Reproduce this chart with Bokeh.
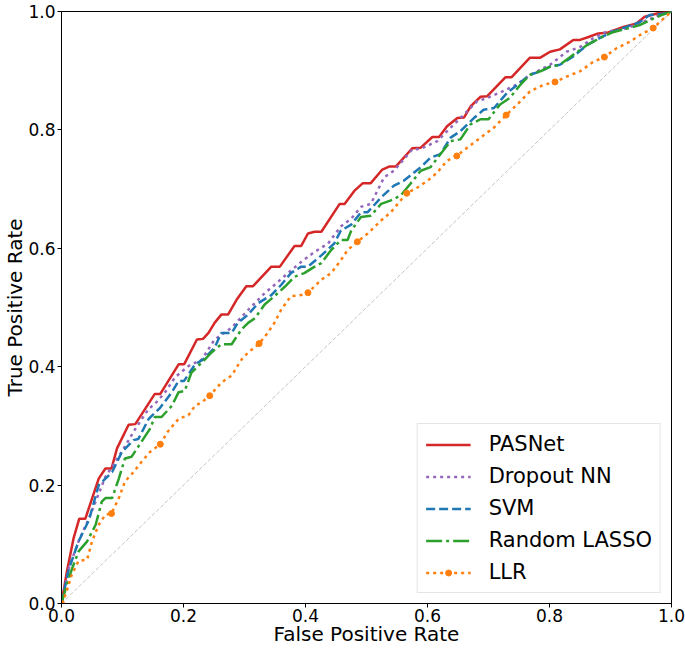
from bokeh.plotting import figure
from bokeh.models import Range1d, Legend, LegendItem, FixedTicker, NumeralTickFormatter
from bokeh.embed import file_html
from bokeh.resources import INLINE

# ---------------- data ----------------
pasnet_fpr = [0, 0.009, 0.020, 0.029, 0.039, 0.061, 0.072, 0.082, 0.091, 0.110, 0.121, 0.153, 0.162,
              0.192, 0.201, 0.222, 0.232, 0.241, 0.251, 0.262, 0.273, 0.287, 0.303, 0.314, 0.344, 0.358,
              0.382, 0.393, 0.404, 0.415, 0.426, 0.456, 0.464, 0.480, 0.494, 0.507, 0.526, 0.537, 0.548,
              0.575, 0.589, 0.608, 0.619, 0.632, 0.649, 0.660, 0.671, 0.687, 0.698, 0.728, 0.738, 0.768,
              0.785, 0.801, 0.817, 0.839, 0.850, 0.864, 0.880, 0.894, 0.921, 0.943, 0.956, 0.981, 1.0]
pasnet_tpr = [0, 0.055, 0.111, 0.143, 0.143, 0.211, 0.228, 0.228, 0.262, 0.302, 0.303, 0.354, 0.354,
              0.404, 0.404, 0.446, 0.447, 0.457, 0.474, 0.488, 0.488, 0.513, 0.536, 0.536, 0.569, 0.569,
              0.604, 0.604, 0.625, 0.628, 0.628, 0.675, 0.675, 0.697, 0.710, 0.710, 0.733, 0.738, 0.738,
              0.769, 0.770, 0.788, 0.788, 0.806, 0.820, 0.821, 0.840, 0.856, 0.857, 0.889, 0.889, 0.922,
              0.922, 0.932, 0.936, 0.952, 0.952, 0.957, 0.963, 0.964, 0.974, 0.980, 0.991, 0.998, 1.0]

dropout_fpr = [0, 0.012, 0.028, 0.045, 0.072, 0.085, 0.105, 0.121, 0.143, 0.153, 0.170, 0.186, 0.208,
               0.230, 0.251, 0.279, 0.306, 0.333, 0.349, 0.371, 0.393, 0.415, 0.437, 0.458, 0.475, 0.491,
               0.507, 0.529, 0.545, 0.575, 0.589, 0.616, 0.638, 0.654, 0.681, 0.698, 0.725, 0.747, 0.768,
               0.801, 0.828, 0.850, 0.872, 0.894, 0.921, 0.943, 0.959, 0.981, 1.0]
dropout_tpr = [0, 0.060, 0.105, 0.144, 0.214, 0.234, 0.267, 0.295, 0.329, 0.337, 0.357, 0.382, 0.401,
               0.412, 0.446, 0.466, 0.496, 0.524, 0.538, 0.558, 0.577, 0.594, 0.608, 0.637, 0.650, 0.670,
               0.675, 0.720, 0.731, 0.767, 0.768, 0.781, 0.804, 0.820, 0.848, 0.854, 0.866, 0.877, 0.893,
               0.910, 0.932, 0.940, 0.955, 0.966, 0.970, 0.978, 0.985, 0.994, 1.0]

svm_fpr = [0, 0.012, 0.028, 0.045, 0.061, 0.072, 0.083, 0.099, 0.118, 0.126, 0.143, 0.162, 0.181, 0.192,
           0.201, 0.219, 0.232, 0.251, 0.262, 0.279, 0.289, 0.306, 0.322, 0.344, 0.360, 0.376, 0.393, 0.404,
           0.426, 0.447, 0.458, 0.475, 0.491, 0.502, 0.524, 0.545, 0.561, 0.589, 0.605, 0.621, 0.638, 0.654,
           0.676, 0.692, 0.709, 0.730, 0.747, 0.768, 0.785, 0.801, 0.817, 0.839, 0.861, 0.882, 0.904, 0.926,
           0.948, 0.964, 0.986, 1.0]
svm_tpr = [0, 0.058, 0.105, 0.141, 0.200, 0.211, 0.222, 0.256, 0.276, 0.278, 0.312, 0.331, 0.357, 0.376,
           0.376, 0.404, 0.412, 0.432, 0.457, 0.457, 0.474, 0.488, 0.507, 0.521, 0.538, 0.558, 0.569, 0.569,
           0.588, 0.608, 0.630, 0.640, 0.661, 0.661, 0.686, 0.706, 0.714, 0.737, 0.753, 0.759, 0.787, 0.798,
           0.820, 0.834, 0.837, 0.862, 0.876, 0.893, 0.899, 0.907, 0.910, 0.924, 0.943, 0.955, 0.966, 0.974,
           0.982, 0.994, 0.996, 1.0]

lasso_fpr = [0, 0.009, 0.017, 0.028, 0.042, 0.056, 0.066, 0.072, 0.083, 0.094, 0.104, 0.115, 0.131, 0.145,
             0.153, 0.164, 0.181, 0.192, 0.202, 0.213, 0.230, 0.246, 0.262, 0.279, 0.295, 0.306, 0.317, 0.333,
             0.349, 0.366, 0.382, 0.398, 0.415, 0.426, 0.442, 0.458, 0.469, 0.475, 0.491, 0.507, 0.524, 0.540,
             0.556, 0.572, 0.589, 0.605, 0.621, 0.638, 0.654, 0.670, 0.687, 0.700, 0.719, 0.735, 0.752, 0.768,
             0.785, 0.801, 0.817, 0.839, 0.861, 0.882, 0.904, 0.926, 0.948, 0.964, 0.986, 1.0]
lasso_tpr = [0, 0.033, 0.058, 0.088, 0.105, 0.133, 0.172, 0.178, 0.178, 0.211, 0.245, 0.248, 0.273, 0.295,
             0.315, 0.315, 0.334, 0.357, 0.359, 0.390, 0.407, 0.424, 0.438, 0.438, 0.463, 0.474, 0.482, 0.505,
             0.519, 0.535, 0.552, 0.558, 0.569, 0.575, 0.597, 0.614, 0.614, 0.630, 0.653, 0.655, 0.675, 0.681,
             0.689, 0.709, 0.731, 0.737, 0.759, 0.781, 0.784, 0.809, 0.818, 0.818, 0.843, 0.854, 0.876, 0.893,
             0.899, 0.907, 0.910, 0.927, 0.943, 0.955, 0.965, 0.971, 0.977, 0.985, 0.995, 1.0]

llr_fpr = [0, 0.007, 0.017, 0.028, 0.042, 0.050, 0.061, 0.072, 0.082, 0.094, 0.104, 0.118, 0.131, 0.145,
           0.162, 0.174, 0.192, 0.208, 0.219, 0.230, 0.243, 0.262, 0.279, 0.295, 0.306, 0.324, 0.338, 0.349,
           0.360, 0.376, 0.393, 0.404, 0.426, 0.442, 0.458, 0.469, 0.485, 0.502, 0.524, 0.540, 0.556, 0.566,
           0.584, 0.600, 0.616, 0.632, 0.648, 0.665, 0.687, 0.709, 0.729, 0.747, 0.768, 0.790, 0.809, 0.828,
           0.850, 0.872, 0.890, 0.910, 0.932, 0.948, 0.970, 0.986, 1.0]
llr_tpr = [0, 0.016, 0.049, 0.072, 0.074, 0.105, 0.133, 0.150, 0.152, 0.178, 0.206, 0.222, 0.239, 0.256,
           0.269, 0.290, 0.312, 0.318, 0.334, 0.340, 0.351, 0.373, 0.385, 0.412, 0.424, 0.439, 0.457, 0.474,
           0.496, 0.519, 0.521, 0.525, 0.547, 0.558, 0.580, 0.597, 0.611, 0.625, 0.647, 0.661, 0.681, 0.693,
           0.703, 0.714, 0.728, 0.748, 0.756, 0.770, 0.787, 0.804, 0.825, 0.843, 0.865, 0.876, 0.881, 0.890,
           0.899, 0.915, 0.923, 0.938, 0.949, 0.960, 0.972, 0.987, 1.0]

llr_marker_fpr = [0, 0.082, 0.162, 0.243, 0.324, 0.404, 0.485, 0.566, 0.648, 0.729, 0.809, 0.890, 0.970]
llr_marker_tpr = [0, 0.152, 0.269, 0.351, 0.439, 0.525, 0.611, 0.693, 0.756, 0.825, 0.881, 0.923, 0.972]

chance_fpr = [0, 1]
chance_tpr = [0, 1]

tick_values = [0.0, 0.2, 0.4, 0.6, 0.8, 1.0]
series_labels = ["PASNet", "Dropout NN", "SVM", "Random LASSO", "LLR"]
x_label = "False Positive Rate"
y_label = "True Positive Rate"

FONT = "DejaVu Sans"

# ---------------- figure ----------------
p = figure(width=685, height=648, output_backend="svg", toolbar_location=None,
           x_range=Range1d(0, 1), y_range=Range1d(0, 1),
           x_axis_label=x_label, y_axis_label=y_label,
           min_border_left=10, min_border_right=14, min_border_top=11, min_border_bottom=10)
p.background_fill_color = "white"
p.border_fill_color = "white"
p.outline_line_color = "black"
p.outline_line_width = 1
p.outline_line_alpha = 1
p.xgrid.visible = False
p.ygrid.visible = False

for ax in (p.xaxis[0], p.yaxis[0]):
    ax.ticker = FixedTicker(ticks=tick_values)
    ax.formatter = NumeralTickFormatter(format="0.0")
    ax.major_label_text_font = FONT
    ax.major_label_text_font_size = "17px"
    ax.major_label_text_color = "black"
    ax.major_tick_out = 4
    ax.major_tick_in = 0
    ax.major_tick_line_color = "black"
    ax.minor_tick_line_color = None
    ax.axis_line_color = "black"
    ax.axis_label_text_font = FONT
    ax.axis_label_text_font_size = "20px"
    ax.axis_label_text_font_style = "normal"
    ax.axis_label_text_color = "black"
p.xaxis.major_label_standoff = 1
p.xaxis.axis_label_standoff = -3
p.yaxis.major_label_standoff = 2
p.yaxis.axis_label_standoff = -2

# diagonal chance line
p.line(chance_fpr, chance_tpr, line_color="#c4c4c4", line_width=1, line_dash="4 2")

lw = 2.5
r_pas = p.line(pasnet_fpr, pasnet_tpr, line_color="#d62728", line_width=lw)
r_drop = p.line(dropout_fpr, dropout_tpr, line_color="#9467bd", line_width=lw, line_dash="3 4")
r_svm = p.line(svm_fpr, svm_tpr, line_color="#1f77b4", line_width=lw, line_dash="9 4")
r_lasso = p.line(lasso_fpr, lasso_tpr, line_color="#2ca02c", line_width=lw, line_dash="16 4 3 4")
r_llr = p.line(llr_fpr, llr_tpr, line_color="#ff7f0e", line_width=lw, line_dash="3 4")
r_llr_m = p.scatter(llr_marker_fpr, llr_marker_tpr, marker="circle", size=6,
                    fill_color="#ff7f0e", line_color="#ff7f0e")

legend = Legend(items=[
    LegendItem(label=series_labels[0], renderers=[r_pas]),
    LegendItem(label=series_labels[1], renderers=[r_drop]),
    LegendItem(label=series_labels[2], renderers=[r_svm]),
    LegendItem(label=series_labels[3], renderers=[r_lasso]),
    LegendItem(label=series_labels[4], renderers=[r_llr, r_llr_m]),
], location="bottom_right")
legend.label_text_font = FONT
legend.label_text_font_size = "21px"
legend.label_text_color = "black"
legend.glyph_width = 45
legend.glyph_height = 15
legend.label_height = 24
legend.spacing = 8
legend.padding = 8
legend.margin = 10
legend.label_standoff = 18
legend.border_line_color = "#cccccc"
legend.border_line_width = 1
legend.background_fill_color = "white"
legend.background_fill_alpha = 0.8
p.add_layout(legend)

open("out.html", "w").write(file_html(p, INLINE))
